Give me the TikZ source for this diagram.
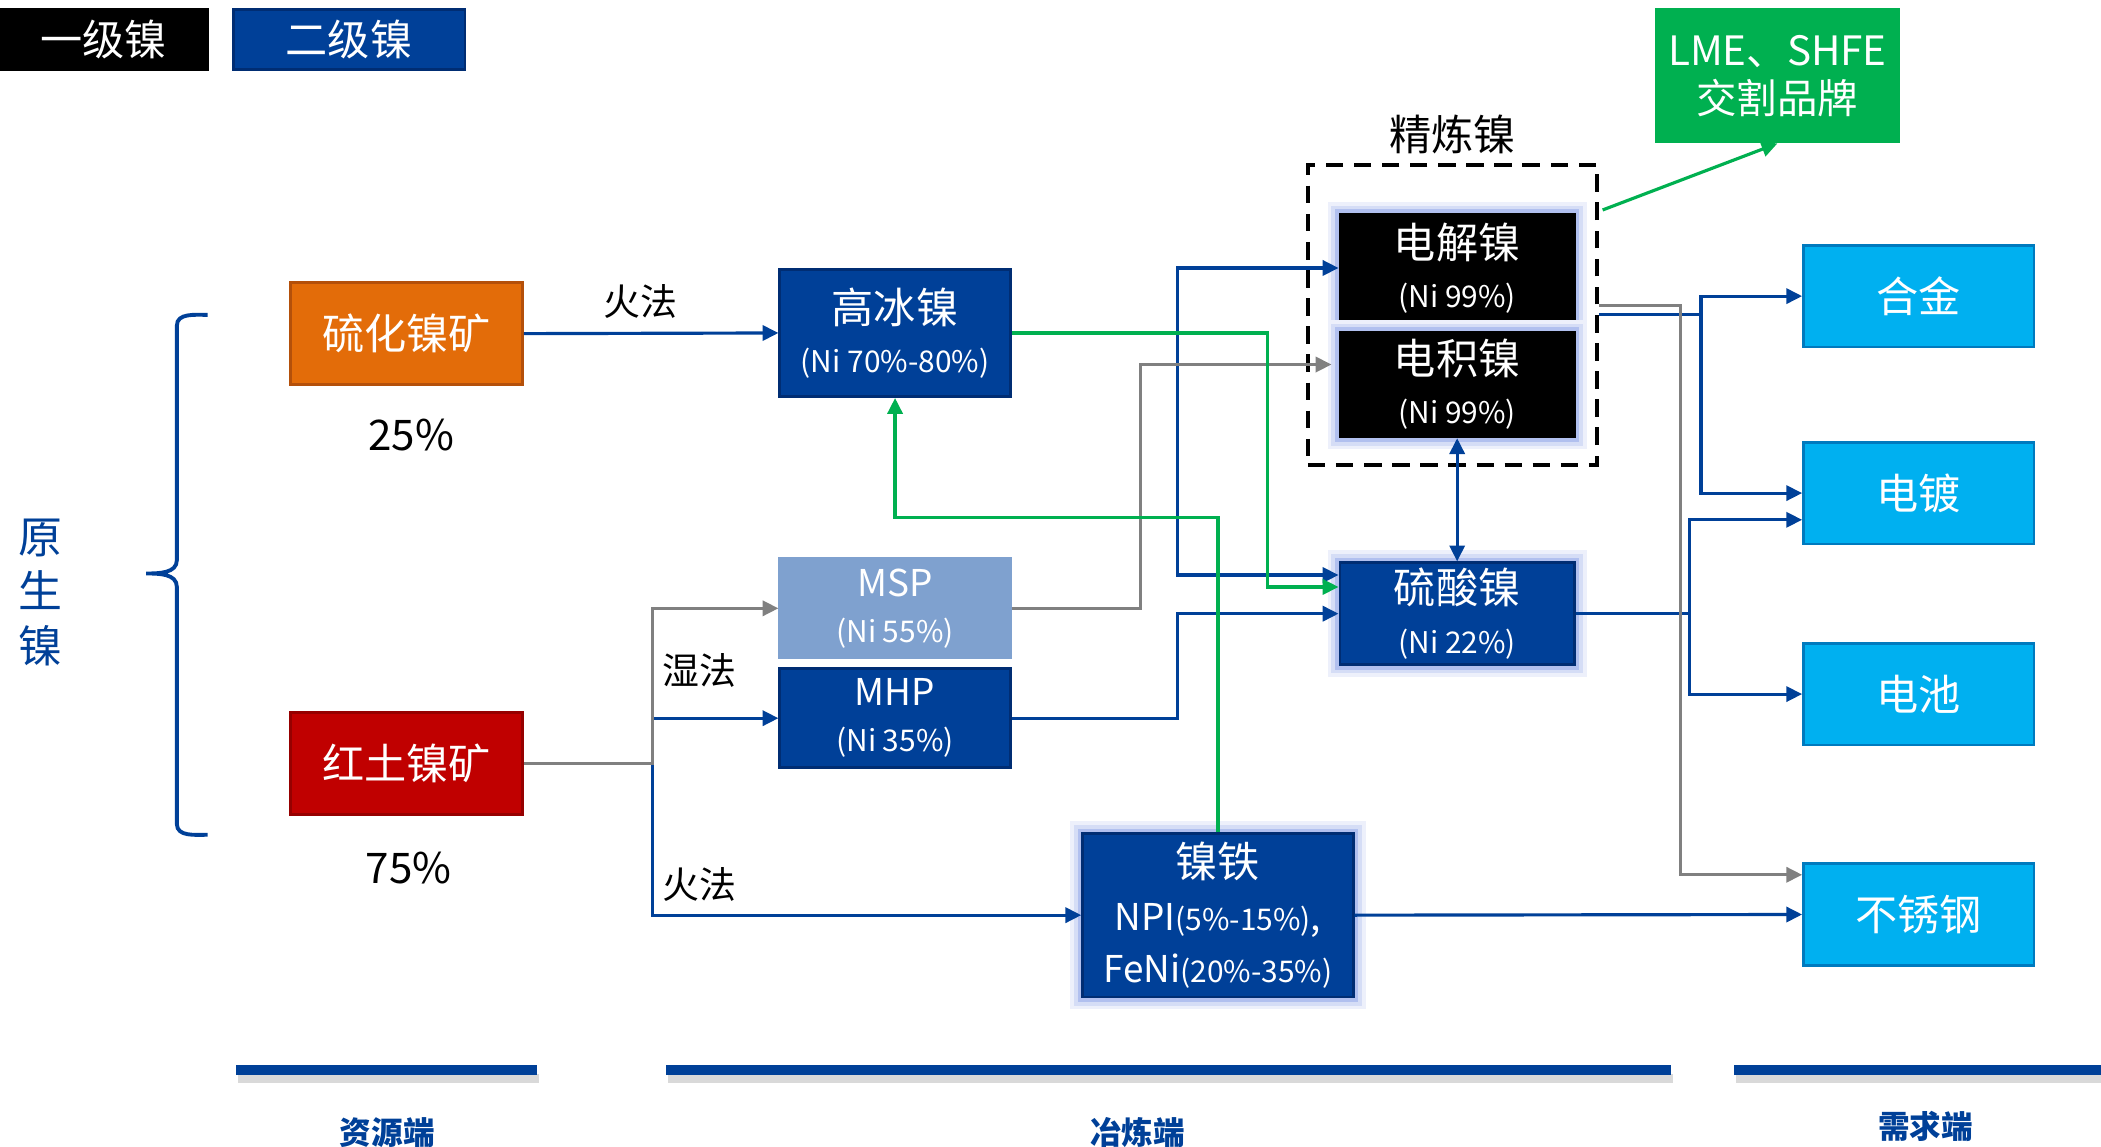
\documentclass[tikz,border=0pt]{standalone}
\usepackage{fontspec}
\setmainfont{Noto Sans CJK SC}
\usetikzlibrary{arrows.meta,positioning,shadows}
\definecolor{nib}{RGB}{0,64,152}
\definecolor{nibd}{RGB}{0,45,115}
\definecolor{mspc}{RGB}{127,161,207}
\definecolor{cyanc}{RGB}{0,176,240}
\definecolor{cyand}{RGB}{0,122,190}
\definecolor{orgc}{RGB}{227,108,9}
\definecolor{orgd}{RGB}{180,80,10}
\definecolor{redc}{RGB}{192,0,0}
\definecolor{redd}{RGB}{150,0,0}
\definecolor{grnc}{RGB}{0,176,80}
\definecolor{grayc}{RGB}{128,128,128}
\definecolor{glowc}{RGB}{135,158,230}
\newcommand\pxu{0.0134cm}
\newcommand\bigtxt{\fontsize{12pt}{14pt}\selectfont}
\newcommand\midtxt{\fontsize{10.5pt}{13pt}\selectfont}
\newcommand\smalltxt{\fontsize{8.5pt}{12pt}\selectfont}

\begin{document}
\begin{tikzpicture}[x=\pxu, y=-\pxu,
>={Triangle[length=4.5pt,width=4.3pt]},
sz/.style 2 args={minimum width=#1*\pxu, minimum height=#2*\pxu},
box/.style={draw, line width=0.8pt, inner sep=0pt, text=white, align=center, font=\bigtxt},
nickel/.style={box, fill=nib, draw=nibd},
black box/.style={box, fill=black, draw=black},
demand/.style={box, fill=cyanc, draw=cyand, sz={172}{76}},
glow/.style={preaction={draw=glowc!15, line width=7pt}, preaction={draw=glowc!35, line width=5pt}, preaction={draw=glowc!65, line width=2.8pt}},
dashbox/.style={draw, dashed, dash pattern=on 5pt off 3pt, line width=1.1pt, inner sep=0pt},
lbl/.style={font=\midtxt},
pct/.style={font=\bigtxt},
stage/.style={font=\fontsize{9pt}{10pt}\selectfont\bfseries, text=nib},
bl/.style={draw=nib, line width=0.9pt, ->},
gy/.style={draw=grayc, line width=0.9pt, ->},
gn/.style={draw=grnc, line width=0.9pt, ->},
bar/.style={fill=nib, drop shadow={shadow xshift=0.6pt, shadow yshift=-2.5pt, opacity=0.3}}]
\useasboundingbox (0,0) rectangle (1568,856);

\node[black box, sz={155}{45}] (lv1) at (77.5,29.5) {一级镍};
\node[nickel, sz={173}{45}] (lv2) at (260.5,29.5) {二级镍};

\node[box, fill=orgc, draw=orgd, sz={173}{76}] (sulf) at (303.5,249) {硫化镍矿};
\node[box, fill=redc, draw=redd, sz={173}{76}] (later) at (303.5,570) {红土镍矿};
\node[pct] (p25) at (307,325) {25\%};
\node[pct] (p75) at (305,648) {75\%};
\node[text=nib, align=center, font=\fontsize{12.5pt}{15.5pt}\selectfont] (prim) at (30,442) {原\\生\\镍};
\draw[nib, line width=1.1pt] (155,235) to[out=180,in=90] (132,243) -- (132,418)
  to[out=-90,in=0] (109,428) to[out=0,in=90] (132,438) -- (132,615) to[out=-90,in=180] (155,623);

\node[nickel, sz={172}{95}] (hici) at (668,248.5) {高冰镍\\{\smalltxt (Ni 70\%-80\%)}};
\node[box, fill=mspc, draw=mspc, font=\midtxt, sz={172}{74}] (msp) at (668,454) {MSP\\{\smalltxt (Ni 55\%)}};
\node[nickel, font=\midtxt, sz={172}{74}] (mhp) at (668,536) {MHP\\{\smalltxt (Ni 35\%)}};
\node[nickel, glow, sz={202}{122}] (npi) at (909,683) {镍铁\\[1pt]{\midtxt NPI}{\smalltxt(5\%-15\%)}{\midtxt,}\\[1pt]{\midtxt FeNi}{\smalltxt(20\%-35\%)}};

\node[dashbox, sz={216}{224}] (refined) at (1084,235) {};
\node[font=\bigtxt, above=-1pt of refined] (reflbl) {精炼镍};
\node[black box, glow, sz={175}{80}] (elec) at (1087.5,200) {电解镍\\{\smalltxt (Ni 99\%)}};
\node[black box, glow, sz={175}{78}] (ewin) at (1087.5,287) {电积镍\\{\smalltxt (Ni 99\%)}};
\node[nickel, glow, sz={175}{76}] (sulfate) at (1087.5,458) {硫酸镍\\{\smalltxt (Ni 22\%)}};
\node[box, fill=grnc, draw=grnc, font=\fontsize{11.5pt}{13.7pt}\selectfont, sz={181}{99}] (lme) at (1326.5,56.5) {LME、SHFE\\交割品牌};

\node[demand] (alloy) at (1432,221) {合金};
\node[demand] (plate) at (1432,368) {电镀};
\node[demand] (batt) at (1432,518) {电池};
\node[demand] (steel) at (1432,682.5) {不锈钢};

\node[lbl] (fire1) at (478,225) {火法};
\node[lbl] (wet) at (522,500) {湿法};
\node[lbl] (fire2) at (522,660) {火法};

\draw[bl] (sulf.east) -- (hici.west);
\draw[bl] (later.east) -- ++(96,0) |- (mhp.west);
\draw[bl] (later.east) -- ++(96,0) |- (npi.west);
\draw[gy] (later.east) -- ++(96,0) |- (msp.west);
\draw[bl] (hici.east) -- ++(124,0) |- (elec.west);
\draw[bl] (hici.east) -- ++(124,0) |- ([yshift=11pt]sulfate.west);
\draw[bl] (mhp.east) -- ++(124,0) |- (sulfate.west);
\draw[gy] (msp.east) -- ++(96,0) |- ([yshift=5.7pt,xshift=-2pt]ewin.west);
\draw[gn] (hici.east) -- ++(191,0) |- ([yshift=7.6pt]sulfate.west);
\draw[gn] (npi.north) -- ++(0,-235) -| (hici.south);
\draw[bl, <->] (sulfate.north) -- (ewin.south);
\draw[gn] ([xshift=1pt,yshift=-13.4pt]refined.north east) -- (lme.south);
\draw[bl] (refined.east) -- ++(76,0) |- (alloy.west);
\draw[bl] (refined.east) -- ++(76,0) |- (plate.west);
\draw[bl] (sulfate.east) -- ++(85,0) |- ([yshift=-7.6pt]plate.west);
\draw[bl] (sulfate.east) -- ++(85,0) |- (batt.west);
\draw[gy] ([yshift=2.7pt]refined.east) -- ++(61,0) |- ([yshift=11.3pt]steel.west);
\draw[bl] (npi.east) -- (steel.west);

\fill[bar] (176,795) rectangle (401,802);
\fill[bar] (497,795) rectangle (1247,802);
\fill[bar] (1294,795) rectangle (1568,802);
\node[stage] (src) at (289,845) {资源端};
\node[stage] (smelt) at (849,845) {冶炼端};
\node[stage] (dem) at (1437,841) {需求端};
\end{tikzpicture}
\end{document}
